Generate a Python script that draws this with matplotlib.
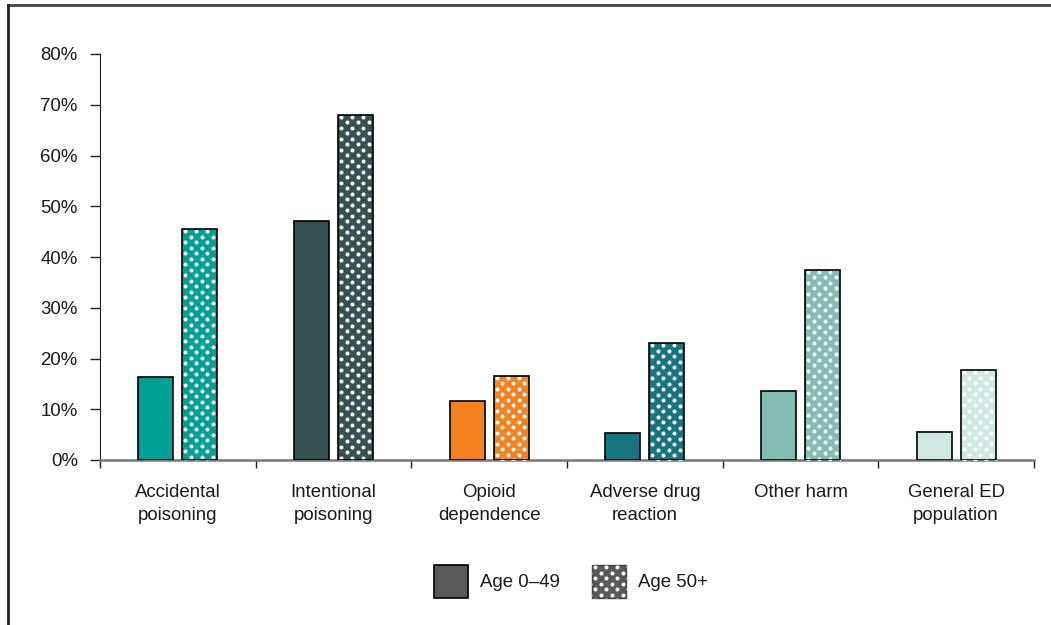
import matplotlib
matplotlib.use("Agg")
import matplotlib.pyplot as plt
from matplotlib.patches import Rectangle
from matplotlib.lines import Line2D
import numpy as np

plt.rcParams['font.family'] = ['Liberation Sans', 'DejaVu Sans']

categories = ["Accidental\npoisoning", "Intentional\npoisoning", "Opioid\ndependence",
              "Adverse drug\nreaction", "Other harm", "General ED\npopulation"]
age_0_49 = [16.3, 47.0, 11.7, 5.3, 13.6, 5.6]
age_50_plus = [45.5, 68.0, 16.6, 23.0, 37.5, 17.7]
colors = ["#00A096", "#375153", "#F58220", "#17737E", "#84BCB3", "#D0E8E4"]
yticks = [0, 10, 20, 30, 40, 50, 60, 70, 80]
legend_labels = ["Age 0\u201349", "Age 50+"]

W, H = 1051, 625
FS = 13.4
fig = plt.figure(figsize=(W/100, H/100), dpi=100)
ax = fig.add_axes([100/W, 1-460/H, (1034-100)/W, (460-54)/H])

x = np.arange(len(categories))
w = 0.225
off = 0.142
ax.set_xlim(-0.5, len(categories)-0.5)
ax.set_ylim(0, 80)


def dot_texture(axis, patch, dx=11.0, dy=5.5, size=2.9, pad_x=3.0, pad_y=2.0):
    """Fill a rectangle patch with a staggered white-dot texture (pixel lattice)."""
    bb = patch.get_window_extent(renderer=None)
    x0, x1, y0, y1 = bb.x0, bb.x1, bb.y0, bb.y1
    pts = []
    row = 0
    y = y1 - pad_y
    while y > y0 - dy:
        xs = x0 + pad_x + (dx/2 if row % 2 else 0.0) - dx
        while xs < x1 + dx:
            pts.append((xs, y))
            xs += dx
        y -= dy
        row += 1
    pts = np.array(pts)
    data_pts = axis.transData.inverted().transform(pts)
    sc = axis.scatter(data_pts[:, 0], data_pts[:, 1], s=size**2, c='white', marker='o',
                      linewidths=0, zorder=3.5)
    sc.set_clip_path(patch)
    return sc


for i in range(len(categories)):
    ax.bar(x[i]-off, age_0_49[i], w, color=colors[i], edgecolor='black', linewidth=1.2, zorder=3)
    bars = ax.bar(x[i]+off, age_50_plus[i], w, color=colors[i], linewidth=0, zorder=3)
    dot_texture(ax, bars[0])
    ax.bar(x[i]+off, age_50_plus[i], w, fill=False, edgecolor='black', linewidth=1.2, zorder=4)

ax.set_yticks(yticks)
ax.set_yticklabels([f"{t}%" for t in yticks], fontsize=FS, color='#1a1a1a')
ax.set_xticks(x)
ax.set_xticklabels(categories, fontsize=FS, color='#1a1a1a', linespacing=1.5)
ax.tick_params(axis='x', which='major', length=0, pad=17)
ax.set_xticks(np.arange(-0.5, len(categories), 1), minor=True)
ax.tick_params(axis='x', which='minor', length=6, width=1, color='#222222', direction='out')
ax.tick_params(axis='y', length=7, width=1, color='#222222', pad=9)
for s in ['top', 'right']:
    ax.spines[s].set_visible(False)
ax.spines['left'].set_color('#222222')
ax.spines['bottom'].set_color('#777777')
ax.spines['bottom'].set_linewidth(1.8)

# manual legend in pixel-coordinate axes
lax = fig.add_axes([0, 0, 1, 1], zorder=5)
lax.set_xlim(0, W)
lax.set_ylim(H, 0)
lax.axis('off')
lax.patch.set_visible(False)
r1 = Rectangle((434, 565), 34, 33, facecolor='#595959', edgecolor='black', linewidth=1.2)
lax.add_patch(r1)
r2 = Rectangle((592, 565), 34, 33, facecolor='#595959', edgecolor='none', linewidth=0)
lax.add_patch(r2)
fig.canvas.draw()
dot_texture(lax, r2)
lax.add_patch(Rectangle((592, 565), 34, 33, fill=False, edgecolor='#444444', linewidth=1.0))
lax.text(480, 582.5, legend_labels[0], fontsize=FS, va='center', ha='left', color='#1a1a1a')
lax.text(638, 582.5, legend_labels[1], fontsize=FS, va='center', ha='left', color='#1a1a1a')

# outer frame lines (top and left)
lax.add_line(Line2D([8, W], [4.5, 4.5], color='#444444', linewidth=2))
lax.add_line(Line2D([8, 8], [4.5, H], color='#222222', linewidth=2))

fig.savefig("out.png", dpi=100)
